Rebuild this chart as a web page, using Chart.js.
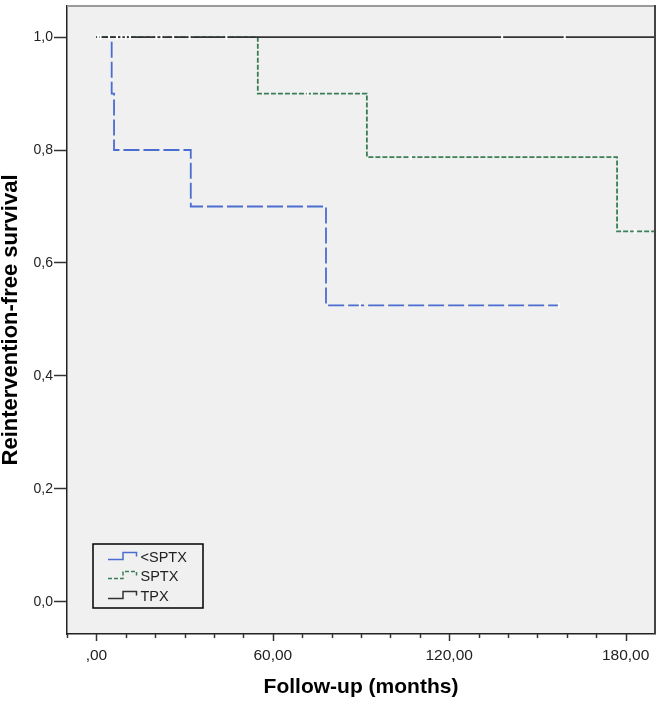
<!DOCTYPE html>
<html>
<head>
<meta charset="utf-8">
<title>Reintervention-free survival</title>
<script src="https://cdn.jsdelivr.net/npm/chart.js@4/dist/chart.umd.min.js"></script>
<style>
  html, body { margin: 0; padding: 0; background: #fff; }
  #wrap { width: 661px; height: 703px; position: relative; }
</style>
</head>
<body>
<div id="wrap"><canvas id="kmChart"></canvas></div>
<script>
/* Kaplan-Meier curves, values */

const seriesNames = ['<SPTX', 'SPTX', 'TPX'];

// step points: month of each event and survival after it
const subSptxMonths = [0, 5.2, 6.0, 32.1, 78.1, 157.3];
const subSptxSurvival = [1.0, 0.9, 0.8, 0.7, 0.525, 0.525];
const sptxMonths = [0, 54.9, 92.0, 177.1, 190];
const sptxSurvival = [1.0, 0.9, 0.7875, 0.656, 0.656];
const tpxMonths = [0, 190];
const tpxSurvival = [1.0, 1.0];

// censored cases (months)
const subSptxCensorMonths = [4.3, 89.6, 157.3];
const sptxCensorMonths = [26.1, 31.7, 44.2, 71.9, 107, 183.1];
const tpxCensorMonths = [0.6, 1.4, 7.0, 8.5, 10.0, 11.4, 20.4, 22.1, 138, 159.3];

const xTickValues = [0, 60, 120, 180];
const xTickLabels = [',00', '60,00', '120,00', '180,00'];
const yTickValues = [0, 0.2, 0.4, 0.6, 0.8, 1.0];
const yTickLabels = ['0,0', '0,2', '0,4', '0,6', '0,8', '1,0'];

const seriesColors = ['#4b6cd0', '#3b7d57', '#333333'];
const seriesDashes = [[16, 4], [5, 2], []];

const FONT = '"Liberation Sans", Arial, sans-serif';

function toPoints(xs, ys) {
    return xs.map(function(x, i) { return { x: x, y: ys[i] }; });
}

// survival of a step curve at time t (for placing censor ticks)
function survivalAt(months, surv, t) {
    let s = surv[0];
    for (let i = 0; i < months.length; i++) {
        if (months[i] <= t) s = surv[i];
    }
    return s;
}

function censorPoints(cm, months, surv) {
    return cm.map(function(t) { return { x: t, y: survivalAt(months, surv, t) }; });
}

// grey plot background, frame, x tick marks, legend
const kmDecor = {
    id: 'kmDecor',
    beforeDraw: function(chart) {
        const a = chart.chartArea, ctx = chart.ctx;
        ctx.save();
        ctx.fillStyle = '#f0f0f0';
        ctx.fillRect(a.left, a.top, a.right - a.left, a.bottom - a.top);
        ctx.restore();
    },
    afterDraw: function(chart) {
        const a = chart.chartArea, ctx = chart.ctx;
        const xs = chart.scales.x;
        ctx.save();
        // frame top + right
        ctx.lineWidth = 2;
        ctx.strokeStyle = '#9a9a9a';
        ctx.beginPath();
        ctx.moveTo(a.left, a.top);
        ctx.lineTo(a.right, a.top);
        ctx.stroke();
        ctx.strokeStyle = '#444';
        ctx.beginPath();
        ctx.moveTo(a.right, a.top - 1);
        ctx.lineTo(a.right, a.bottom);
        ctx.stroke();

        // x tick marks, long ones at the labelled values
        ctx.strokeStyle = '#333';
        ctx.lineWidth = 1.5;
        for (let v = -10; v <= 180; v += 10) {
            const px = Math.round(xs.getPixelForValue(v)) + 0.5;
            const len = xTickValues.indexOf(v) >= 0 ? 7 : 4;
            ctx.beginPath();
            ctx.moveTo(px, a.bottom);
            ctx.lineTo(px, a.bottom + len);
            ctx.stroke();
        }

        // legend box
        const bx = 93, by = 544, bw = 110, bh = 64;
        ctx.lineWidth = 1.5;
        ctx.strokeStyle = '#000';
        ctx.strokeRect(bx, by, bw, bh);
        ctx.font = '14.5px ' + FONT;
        ctx.textBaseline = 'middle';
        ctx.fillStyle = '#222';
        const rows = [557.5, 576.5, 596.5];
        seriesNames.forEach(function(name, i) {
            const c = rows[i];
            ctx.strokeStyle = seriesColors[i];
            ctx.lineWidth = 1.5;
            ctx.setLineDash(i === 1 ? [4, 2] : []);
            ctx.beginPath();
            ctx.moveTo(108, c + 2);
            ctx.lineTo(123, c + 2);
            ctx.lineTo(123, c - 5);
            ctx.lineTo(136.5, c - 5);
            ctx.lineTo(136.5, c - 1);
            ctx.stroke();
            ctx.setLineDash([]);
            ctx.fillText(name, 140.5, c);
        });
        ctx.restore();
    }
};

// keep the plot area exactly where the original has it
function fixBox(size, dim) {
    return function(s) {
        s[dim] = size;
        s.paddingTop = 0;
        s.paddingBottom = 0;
        s.paddingLeft = 0;
        s.paddingRight = 0;
    };
}

function initializeChart() {
    const ctx = document.getElementById('kmChart').getContext('2d');

    const stepSets = [
        toPoints(subSptxMonths, subSptxSurvival),
        toPoints(sptxMonths, sptxSurvival),
        toPoints(tpxMonths, tpxSurvival)
    ];
    const censorSets = [
        censorPoints(subSptxCensorMonths, subSptxMonths, subSptxSurvival),
        censorPoints(sptxCensorMonths, sptxMonths, sptxSurvival),
        censorPoints(tpxCensorMonths, tpxMonths, tpxSurvival)
    ];

    const datasets = [];
    stepSets.forEach(function(pts, i) {
        datasets.push({
            label: seriesNames[i],
            data: pts,
            stepped: 'before',
            borderColor: seriesColors[i],
            borderDash: seriesDashes[i],
            borderWidth: 1.8,
            pointRadius: 0,
            fill: false,
            order: 3 - i
        });
    });
    censorSets.forEach(function(pts, i) {
        datasets.push({
            label: seriesNames[i] + ' censored',
            data: pts,
            showLine: false,
            pointStyle: 'line',
            rotation: 90,
            pointRadius: 2.5,
            borderColor: '#ffffff',
            borderWidth: 2,
            order: 0
        });
    });

    new Chart(ctx, {
        type: 'line',
        data: { datasets: datasets },
        options: {
            responsive: true,
            maintainAspectRatio: false,
            animation: false,
            layout: { padding: { top: 3, right: 5, left: 0, bottom: 0 } },
            plugins: {
                legend: { display: false },
                tooltip: { enabled: false }
            },
            scales: {
                x: {
                    type: 'linear',
                    min: -10,
                    max: 190,
                    afterFit: fixBox(69, 'height'),
                    afterBuildTicks: function(s) {
                        s.ticks = xTickValues.map(function(v) { return { value: v }; });
                    },
                    grid: { drawOnChartArea: false, drawTicks: false },
                    border: { display: true, color: '#222', width: 1.5 },
                    ticks: {
                        autoSkip: false,
                        maxRotation: 0,
                        padding: 12,
                        color: '#222',
                        font: { family: FONT, size: 15.5 },
                        callback: function(v, i) { return xTickLabels[i]; }
                    },
                    title: {
                        display: true,
                        text: 'Follow-up (months)',
                        color: '#000',
                        font: { family: FONT, size: 21, weight: 'bold' },
                        padding: { top: 0, bottom: 3 }
                    }
                },
                y: {
                    min: -0.057,
                    max: 1.055,
                    afterFit: fixBox(67, 'width'),
                    afterBuildTicks: function(s) {
                        s.ticks = yTickValues.map(function(v) { return { value: v }; });
                    },
                    grid: { drawOnChartArea: false, drawTicks: true, tickLength: 13, tickColor: '#333', tickWidth: 1.5 },
                    border: { display: true, color: '#222', width: 1.5 },
                    ticks: {
                        padding: 1,
                        color: '#222',
                        font: { family: FONT, size: 14 },
                        callback: function(v, i) { return yTickLabels[i]; }
                    },
                    title: {
                        display: true,
                        text: 'Reintervention-free survival',
                        color: '#000',
                        font: { family: FONT, size: 22, weight: 'bold' },
                        padding: { top: -2.6, bottom: 0 }
                    }
                }
            }
        },
        plugins: [kmDecor]
    });
}

document.addEventListener('DOMContentLoaded', initializeChart);
</script>
</body>
</html>
